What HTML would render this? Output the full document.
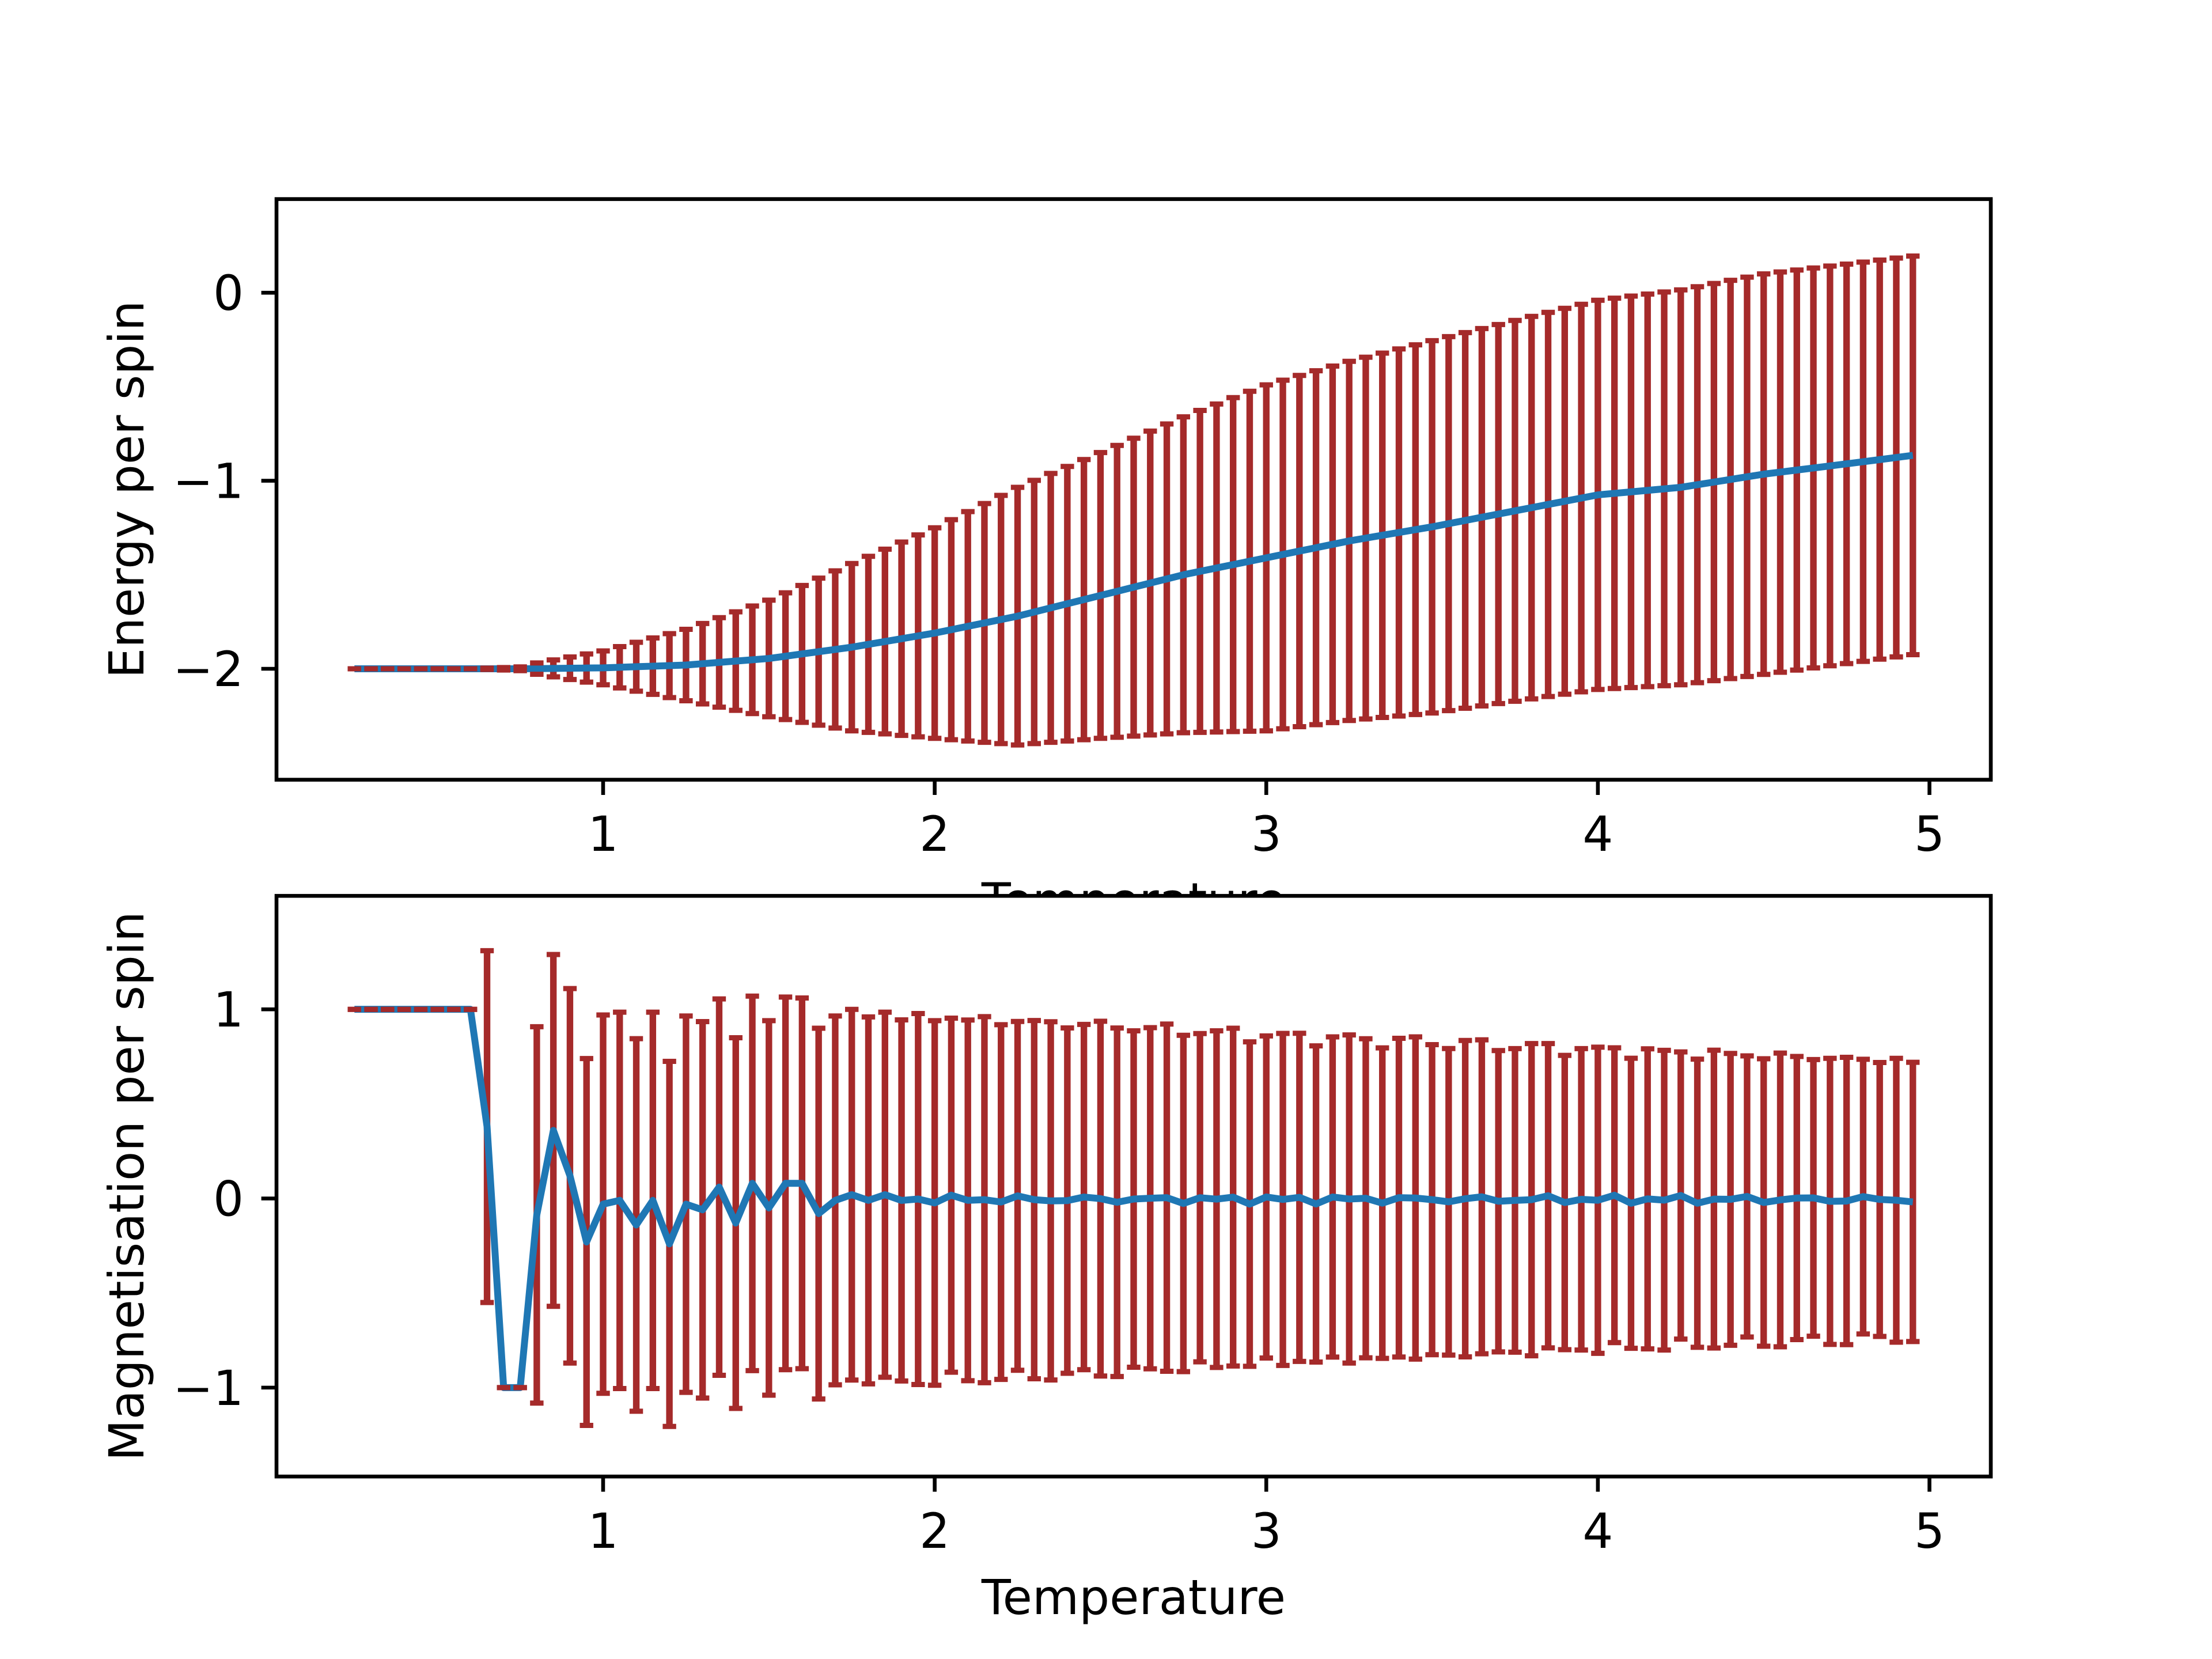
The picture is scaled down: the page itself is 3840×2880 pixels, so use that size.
<!DOCTYPE html>
<html><head><meta charset="utf-8"><style>
html,body{margin:0;padding:0;background:#fff;}
svg{display:block;}
text{font-family:"DejaVu Sans","Liberation Sans",sans-serif;font-size:13.9px;fill:#000;}
</style></head><body>
<svg id="s" width="3840" height="2880" viewBox="0 0 640 480" xmlns="http://www.w3.org/2000/svg">
<rect width="640" height="480" fill="#fff"/>
<g id="top"></g>
<text x="328" y="265.4" text-anchor="middle">Temperature</text>
<g id="bot"></g>
<text x="328" y="467" text-anchor="middle">Temperature</text>
<text transform="translate(41.5,141.6) rotate(-90)" text-anchor="middle">Energy per spin</text>
<text transform="translate(41.5,343.2) rotate(-90)" text-anchor="middle">Magnetisation per spin</text>
</svg>
<script>
function interp(tab,t){if(t<=tab[0][0])return tab[0][1];for(var i=1;i<tab.length;i++){if(t<=tab[i][0]){var a=tab[i-1],b=tab[i];return a[1]+(b[1]-a[1])*(t-a[0])/(b[0]-a[0]);}}return tab[tab.length-1][1];}
var X=function(t){return 80+(t-0.015)/5.17*496;};
var Ts=[];for(var i=0;i<95;i++)Ts.push(Math.round((0.25+i*0.05)*100)/100);
var Emean=[[0.25,-2],[0.75,-2],[1.0,-1.995],[1.25,-1.98],[1.5,-1.945],[1.75,-1.885],[2.0,-1.81],[2.25,-1.72],[2.5,-1.61],[2.75,-1.5],[3.0,-1.41],[3.25,-1.32],[3.5,-1.245],[3.75,-1.16],[4.0,-1.075],[4.25,-1.035],[4.5,-0.965],[4.75,-0.91],[4.95,-0.865]];
var Ehw=[[0.25,0],[0.6,0],[0.75,0.01],[0.8,0.03],[0.9,0.06],[1.0,0.09],[1.25,0.19],[1.5,0.31],[1.75,0.445],[2.0,0.56],[2.25,0.685],[2.5,0.76],[3.0,0.92],[3.5,0.99],[4.0,1.035],[4.5,1.065],[4.95,1.06]];
var Mexp={0.65:0.38,0.7:-1,0.75:-1,0.8:-0.087,0.85:0.36,0.9:0.12,0.95:-0.23,1.0:-0.03,1.05:-0.01,1.1:-0.14,1.15:-0.01,1.2:-0.24,1.25:-0.03,1.3:-0.06,1.35:0.06,1.4:-0.13,1.45:0.08,1.5:-0.05,1.55:0.08,1.6:0.08,1.65:-0.08,1.7:-0.01,1.75:0.02,1.8:-0.01,1.85:0.02};
var Mhwexp={0.65:0.93,0.7:0,0.75:0,0.8:0.995,0.85:0.93,0.9:0.99,0.95:0.97,1.0:1.0,1.05:0.995,1.1:0.985,1.15:0.995,1.2:0.965,1.25:0.995,1.3:0.995,1.35:0.995,1.4:0.98,1.45:0.99,1.5:0.99,1.55:0.985,1.6:0.98,1.65:0.98,1.7:0.975,1.75:0.98,1.8:0.97,1.85:0.965};
var Mhw=[[1.85,0.965],[2.0,0.96],[2.5,0.92],[3.0,0.865],[3.5,0.83],[4.0,0.79],[4.5,0.76],[4.95,0.73]];
function panel(id,y0,y1,ylo,yhi,ticks,data){
  var Y=function(v){return y1-(v-ylo)/(yhi-ylo)*(y1-y0);};
  var s='';
  data.forEach(function(d){if(d[2]>0)s+='<line x1="'+X(d[0])+'" x2="'+X(d[0])+'" y1="'+Y(d[1]+d[2])+'" y2="'+Y(d[1]-d[2])+'" stroke="#a52a2a" stroke-width="1.9"/>';});
  var p=data.map(function(d){return X(d[0]).toFixed(2)+','+Y(d[1]).toFixed(2);}).join(' ');
  s+='<polyline points="'+p+'" fill="none" stroke="#1f77b4" stroke-width="2" stroke-linejoin="round"/>';
  data.forEach(function(d){var x=X(d[0]);[d[1]+d[2],d[1]-d[2]].forEach(function(v){s+='<line x1="'+(x-1.95)+'" x2="'+(x+1.95)+'" y1="'+Y(v)+'" y2="'+Y(v)+'" stroke="#a52a2a" stroke-width="1.5"/>';});});
  s+='<rect x="80" y="'+y0+'" width="496" height="'+(y1-y0)+'" fill="none" stroke="#000" stroke-width="1.1"/>';
  [1,2,3,4,5].forEach(function(t){var x=X(t);s+='<line x1="'+x+'" x2="'+x+'" y1="'+y1+'" y2="'+(y1+4.4)+'" stroke="#000" stroke-width="1.1"/><text x="'+x+'" y="'+(y1+20.6)+'" text-anchor="middle">'+t+'</text>';});
  ticks.forEach(function(v){var y=Y(v);s+='<line x1="75.6" x2="80" y1="'+y+'" y2="'+y+'" stroke="#000" stroke-width="1.1"/><text x="70.5" y="'+(y+5)+'" text-anchor="end">'+(v<0?'\u2212'+(-v):v)+'</text>';});
  return s;
}
var Ed=Ts.map(function(t){return [t,interp(Emean,t),interp(Ehw,t)];});
var Md=Ts.map(function(t,i){var m,h;
  if(t<=0.6){m=1;h=0;}
  else if(Mexp[t]!==undefined){m=Mexp[t];h=Mhwexp[t];}
  else{m=0.025*Math.sin(i*2.3)*Math.cos(i*0.7)-0.005;h=interp(Mhw,t)+0.02*Math.sin(i*1.7);}
  return [t,m,h];});
document.getElementById('top').innerHTML=panel('top',57.6,225.6,-2.59,0.498,[0,-1,-2],Ed);
var b=panel('bot',259.2,427.2,-1.47,1.60,[1,0,-1],Md);
document.getElementById('bot').innerHTML='<rect x="80" y="259.2" width="496" height="168" fill="#fff"/>'+b;
</script>
</body></html>
